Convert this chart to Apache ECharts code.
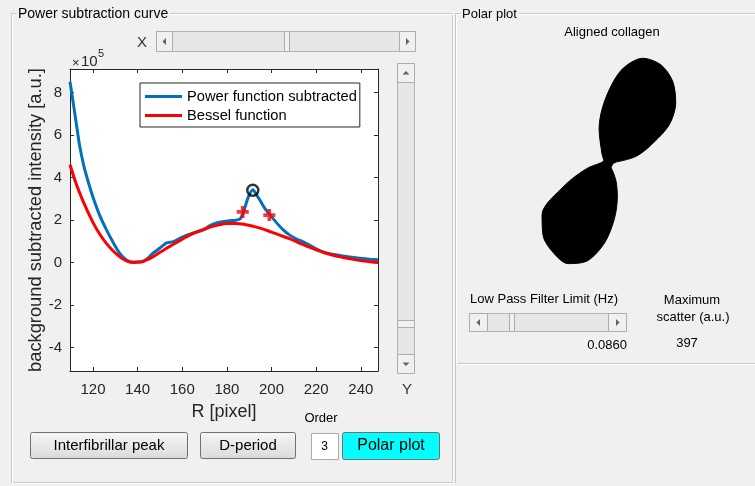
<!DOCTYPE html>
<html>
<head>
<meta charset="utf-8">
<script src="https://cdn.jsdelivr.net/npm/echarts@6/dist/echarts.min.js"></script>
<style>
html, body { margin: 0; padding: 0; background: #f0f0f0; }
#main { width: 755px; height: 486px; }
</style>
</head>
<body>
<div id="main"></div>
<script>
// power subtraction curve (values in units of 1e5 a.u.)
var blueR = [109.7, 111, 112.5, 114, 116, 118, 120, 123, 126, 129, 132, 135, 138, 141, 144, 147, 150, 153, 156, 160,
    164, 168, 170, 172, 175, 178, 181, 184, 186, 187.5, 189.5, 191.6, 193.5, 195, 197, 199.5, 202, 205, 208, 211,
    214, 217, 220, 223, 226, 230, 235, 240, 244, 247.7];
var blueV = [8.50, 7.60, 6.55, 5.50, 4.50, 3.75, 3.07, 2.22, 1.55, 0.95, 0.43, 0.12, 0.02, 0.02, 0.15, 0.45, 0.68, 0.92, 0.98, 1.20,
    1.36, 1.48, 1.55, 1.72, 1.85, 1.92, 1.97, 1.99, 2.06, 2.40, 3.05, 3.42, 3.15, 2.90, 2.55, 2.22, 1.90, 1.56, 1.30, 1.12,
    0.98, 0.82, 0.64, 0.50, 0.42, 0.34, 0.26, 0.20, 0.16, 0.13];

var redR = [109.7, 112, 114, 116, 118, 120, 123, 126, 129, 132, 135, 138, 141, 144, 147, 150, 153, 156, 160, 164,
    168, 172, 176, 180, 184, 188, 192, 196, 200, 204, 208, 212, 216, 220, 224, 228, 232, 236, 240, 244, 247.7];
var redV = [4.60, 3.85, 3.28, 2.78, 2.32, 1.88, 1.34, 0.90, 0.55, 0.27, 0.08, 0.00, 0.02, 0.12, 0.28, 0.48, 0.67, 0.86, 1.10, 1.32,
    1.50, 1.65, 1.76, 1.83, 1.84, 1.79, 1.70, 1.58, 1.43, 1.28, 1.12, 0.94, 0.76, 0.60, 0.45, 0.33, 0.24, 0.16, 0.09, 0.04, 0.00];

var plusR = [187.1, 199.0];
var plusV = [2.38, 2.23];
var peakR = [191.6];
var peakV = [3.40];

var xTicks = [120, 140, 160, 180, 200, 220, 240];
var yTicks = [-4, -2, 0, 2, 4, 6, 8];

// polar plot of the scatter (a.u.)
var polarAngle = [0, 10, 20, 30, 40, 50, 60, 70, 80, 90, 100, 110, 120, 130, 140, 150, 160, 170, 180,
    190, 200, 210, 220, 230, 240, 250, 260, 270, 280, 290, 300, 310, 320, 330, 340, 350, 360];
var polarR = [40, 110, 172, 262, 327, 373, 397, 391, 330, 220, 121, 32, 10, 7, 7, 7, 7, 7, 7,
    14, 70, 163, 291, 341, 369, 383, 355, 284, 199, 128, 78, 43, 28, 28, 28, 30, 40];

var FONT = 'Liberation Sans, Arial, sans-serif';

function pairs(a, b) {
    var out = [];
    for (var i = 0; i < a.length; i++) {
        out.push([a[i], b[i]]);
    }
    return out;
}

// ---- gui decorations (panels, scrollbars, buttons) ----
var g = [];

function rect(x, y, w, h, fill, stroke) {
    g.push({type: 'rect', silent: true, shape: {x: x, y: y, width: w, height: h},
        style: {fill: fill, stroke: stroke || null, lineWidth: 1}});
}
function label(x, y, text, size, align, extra) {
    var st = {text: text, x: 0, y: 0, fill: '#000', fontSize: size, fontFamily: FONT,
        align: align || 'center', verticalAlign: 'middle'};
    for (var k in (extra || {})) st[k] = extra[k];
    g.push({type: 'text', silent: true, x: x, y: y, style: st});
}
function tri(pts) {
    g.push({type: 'polygon', silent: true, shape: {points: pts}, style: {fill: '#606060'}});
}
function btn(x, y, w, h) {
    rect(x + 0.5, y + 0.5, w - 1, h - 1, '#f0f0f0', '#adadad');
}
function frame(x, y, w, h) {
    rect(x + 0.5, y + 0.5, w, h, null, '#c8c8c8');
    rect(x + 1.5, y + 1.5, w, h, null, '#ffffff');
}
function hScroll(x, y, w, h, b, thumbX) {
    rect(x + 0.5, y + 0.5, w - 1, h - 1, '#e6e6e6', '#b4b4b4');
    btn(x, y, b, h);
    btn(x + w - b, y, b, h);
    btn(thumbX, y, 6, h);
    var cy = y + h / 2;
    tri([[x + b / 2 - 2, cy], [x + b / 2 + 1.5, cy - 3.5], [x + b / 2 + 1.5, cy + 3.5]]);
    var rx = x + w - b / 2;
    tri([[rx + 2, cy], [rx - 1.5, cy - 3.5], [rx - 1.5, cy + 3.5]]);
}
function vScroll(x, y, w, h, b, thumbY) {
    rect(x + 0.5, y + 0.5, w - 1, h - 1, '#e6e6e6', '#b4b4b4');
    btn(x, y, w, b);
    btn(x, y + h - b, w, b);
    btn(x, thumbY, w, 8);
    var cx = x + w / 2;
    tri([[cx, y + b / 2 - 2], [cx - 3.5, y + b / 2 + 1.5], [cx + 3.5, y + b / 2 + 1.5]]);
    var by = y + h - b / 2;
    tri([[cx, by + 2], [cx - 3.5, by - 1.5], [cx + 3.5, by - 1.5]]);
}
function pushButton(x, y, w, h, fill, text, size) {
    g.push({type: 'rect', silent: true, shape: {x: x + 0.5, y: y + 0.5, width: w - 1, height: h - 1, r: 2},
        style: {fill: fill, stroke: '#707070', lineWidth: 1}});
    label(x + w / 2, y + h / 2, text, size);
}

// left panel
frame(11, 13, 441, 469);
label(17, 14, 'Power subtraction curve', 14, 'left', {backgroundColor: '#f0f0f0', padding: [0, 2, 0, 1]});
// right panel
frame(455, 13, 310, 350);
g.push({type: 'line', silent: true, shape: {x1: 455.5, y1: 363, x2: 455.5, y2: 483}, style: {stroke: '#c8c8c8'}});
label(461, 14, 'Polar plot', 13, 'left', {backgroundColor: '#f0f0f0', padding: [0, 2, 0, 1]});

// x / y scrollbars
label(142, 43, 'X', 15, 'center', {fill: '#333'});
hScroll(156, 31, 260, 21, 17, 284);
vScroll(397, 63, 18, 311, 20, 320);
label(407, 390, 'Y', 15, 'center', {fill: '#333'});

// exponent of the y axis
label(72, 63, '\u00d7', 13, 'left', {fill: '#262626'});
label(81, 62, '10', 15, 'left', {fill: '#262626'});
label(98, 54, '5', 11, 'left', {fill: '#262626'});

// bottom buttons
var grad = {type: 'linear', x: 0, y: 0, x2: 0, y2: 1,
    colorStops: [{offset: 0, color: '#f7f7f7'}, {offset: 1, color: '#dadada'}]};
pushButton(30, 432, 158, 27, grad, 'Interfibrillar peak', 15);
pushButton(200, 432, 96, 27, grad, 'D-period', 15);
label(321, 418, 'Order', 13);
rect(311.5, 433.5, 27, 26, '#ffffff', '#ababab');
label(324.5, 447, '3', 12);
pushButton(342, 432, 98, 28, '#00ffff', 'Polar plot', 16);

// right panel texts and slider
label(612, 32, 'Aligned collagen', 13);
label(470, 299, 'Low Pass Filter Limit (Hz)', 13, 'left');
hScroll(469, 313, 158, 19, 19, 509);
label(627, 345, '0.0860', 13, 'right');
label(692, 300, 'Maximum', 13);
label(693, 317, 'scatter (a.u.)', 13);
label(687, 343, '397', 13);

var axisColor = '#262626';
function xAxisDef(pos) {
    return {
        type: 'value', min: 109.7, max: 247.7, position: pos,
        axisLine: {show: true, onZero: false, lineStyle: {color: axisColor, width: 1}},
        axisTick: {show: true, inside: true, length: 4, customValues: xTicks, lineStyle: {color: axisColor}},
        axisLabel: {show: pos === 'bottom', customValues: xTicks, color: axisColor, fontSize: 15, fontFamily: FONT, margin: 11},
        splitLine: {show: false}
    };
}
function yAxisDef(pos) {
    return {
        type: 'value', min: -5.1, max: 9.1, position: pos,
        axisLine: {show: true, onZero: false, lineStyle: {color: axisColor, width: 1}},
        axisTick: {show: true, inside: true, length: 4, customValues: yTicks, lineStyle: {color: axisColor}},
        axisLabel: {show: pos === 'left', customValues: yTicks, color: axisColor, fontSize: 15, fontFamily: FONT, margin: 8},
        splitLine: {show: false}
    };
}

var xBottom = xAxisDef('bottom');
xBottom.name = 'R [pixel]';
xBottom.nameLocation = 'middle';
xBottom.nameGap = 32;
xBottom.nameTextStyle = {fontSize: 18, color: axisColor, fontFamily: FONT};
var yLeft = yAxisDef('left');
yLeft.name = 'background subtracted intensity [a.u.]';
yLeft.nameLocation = 'middle';
yLeft.nameGap = 25;
yLeft.nameTextStyle = {fontSize: 18.3, color: axisColor, fontFamily: FONT};

var plusPath = 'path://M3.5,0H6.5V3.5H10V6.5H6.5V10H3.5V6.5H0V3.5H3.5Z';

var chart = echarts.init(document.getElementById('main'));
chart.setOption({
    animation: false,
    backgroundColor: '#f0f0f0',
    textStyle: {fontFamily: FONT},
    graphic: {elements: g},
    grid: {left: 70, top: 69, width: 308, height: 302, show: true, backgroundColor: '#ffffff', borderWidth: 0},
    xAxis: [xBottom, xAxisDef('top')],
    yAxis: [yLeft, yAxisDef('right')],
    legend: {
        left: 140, top: 83, orient: 'vertical',
        data: [{name: 'Power function subtracted', icon: 'rect'}, {name: 'Bessel function', icon: 'rect'}],
        itemWidth: 37, itemHeight: 3, itemGap: 4,
        padding: [6, 3, 4, 5],
        backgroundColor: '#ffffff', borderColor: axisColor, borderWidth: 1,
        textStyle: {fontSize: 14.7, color: '#000', fontFamily: FONT}
    },
    polar: {center: [605, 162], radius: 120},
    angleAxis: {type: 'value', min: 0, max: 360, startAngle: 0, clockwise: false, show: false},
    radiusAxis: {type: 'value', min: 0, max: 425, show: false},
    series: [
        {
            name: 'Power function subtracted', type: 'line', data: pairs(blueR, blueV),
            smooth: 0.25, symbol: 'none', z: 2,
            lineStyle: {color: '#0072BD', width: 3}, itemStyle: {color: '#0072BD'}
        },
        {
            name: 'Bessel function', type: 'line', data: pairs(redR, redV),
            smooth: 0.5, symbol: 'none', z: 3,
            lineStyle: {color: '#FF0000', width: 3}, itemStyle: {color: '#FF0000'}
        },
        {
            name: 'limits', type: 'scatter', data: pairs(plusR, plusV), z: 4,
            symbol: plusPath, symbolSize: 12, itemStyle: {color: '#FF0000'}
        },
        {
            name: 'peak', type: 'scatter', data: pairs(peakR, peakV), z: 5,
            symbol: 'circle', symbolSize: 11,
            itemStyle: {color: 'rgba(0,0,0,0)', borderColor: '#000', borderWidth: 2.5}
        },
        {
            name: 'polar', type: 'line', coordinateSystem: 'polar',
            data: pairs(polarR, polarAngle), smooth: 0.3, symbol: 'none',
            lineStyle: {color: '#000', width: 1}, areaStyle: {color: '#000', opacity: 1}
        }
    ]
});
</script>
</body>
</html>
